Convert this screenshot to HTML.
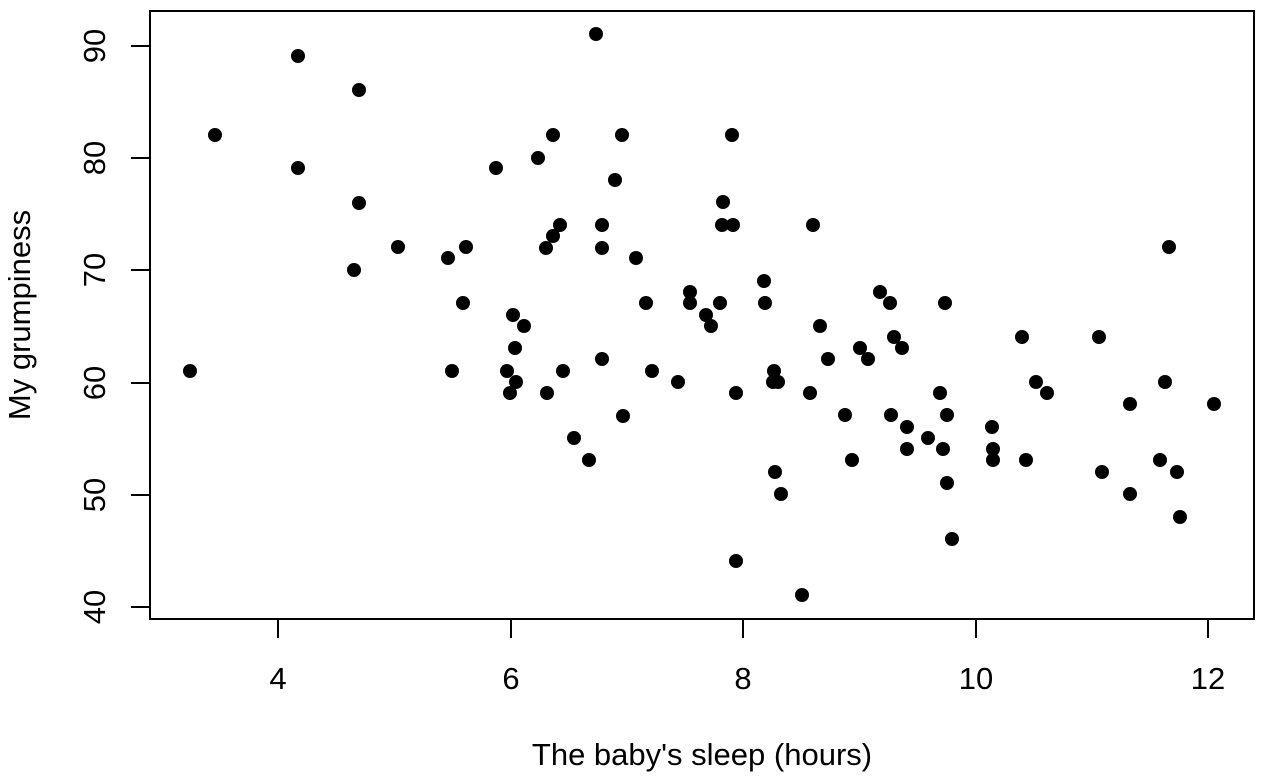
<!DOCTYPE html>
<html><head><meta charset="utf-8"><style>
html,body{margin:0;padding:0;background:#fff;}
svg{display:block;font-family:"Liberation Sans",Arial,sans-serif;}
</style></head><body>
<svg width="1268" height="778" viewBox="0 0 1268 778" xmlns="http://www.w3.org/2000/svg">
<rect x="150" y="11" width="1104" height="608" fill="none" stroke="#000" stroke-width="2"/>
<g stroke="#000" stroke-width="2">
<line x1="278" y1="619" x2="1208" y2="619"/>
<line x1="278" y1="619" x2="278" y2="638"/>
<line x1="511" y1="619" x2="511" y2="638"/>
<line x1="743" y1="619" x2="743" y2="638"/>
<line x1="976" y1="619" x2="976" y2="638"/>
<line x1="1208" y1="619" x2="1208" y2="638"/>
<line x1="150" y1="46" x2="150" y2="607"/>
<line x1="131" y1="607" x2="150" y2="607"/>
<line x1="131" y1="495" x2="150" y2="495"/>
<line x1="131" y1="383" x2="150" y2="383"/>
<line x1="131" y1="270" x2="150" y2="270"/>
<line x1="131" y1="158" x2="150" y2="158"/>
<line x1="131" y1="46" x2="150" y2="46"/>
</g>
<g font-size="31" text-anchor="middle" fill="#000">
<text x="278" y="689">4</text>
<text x="511" y="689">6</text>
<text x="743" y="689">8</text>
<text x="976" y="689">10</text>
<text x="1208" y="689">12</text>
<text transform="translate(105,607) rotate(-90)">40</text>
<text transform="translate(105,495) rotate(-90)">50</text>
<text transform="translate(105,383) rotate(-90)">60</text>
<text transform="translate(105,270) rotate(-90)">70</text>
<text transform="translate(105,158) rotate(-90)">80</text>
<text transform="translate(105,46) rotate(-90)">90</text>
<text x="702" y="765">The baby's sleep (hours)</text>
<text transform="translate(30,315) rotate(-90)">My grumpiness</text>
</g>
<g fill="#000">
<circle cx="190" cy="371" r="7"/><circle cx="215" cy="135" r="7"/><circle cx="298" cy="56" r="7"/><circle cx="298" cy="168" r="7"/><circle cx="359" cy="90" r="7"/><circle cx="359" cy="203" r="7"/><circle cx="354" cy="270" r="7"/><circle cx="398" cy="247" r="7"/><circle cx="448" cy="258" r="7"/><circle cx="452" cy="371" r="7"/><circle cx="463" cy="303" r="7"/><circle cx="466" cy="247" r="7"/><circle cx="496" cy="168" r="7"/><circle cx="507" cy="371" r="7"/><circle cx="510" cy="393" r="7"/><circle cx="513" cy="315" r="7"/><circle cx="515" cy="348" r="7"/><circle cx="516" cy="382" r="7"/><circle cx="524" cy="326" r="7"/><circle cx="538" cy="158" r="7"/><circle cx="546" cy="248" r="7"/><circle cx="547" cy="393" r="7"/><circle cx="553" cy="236" r="7"/><circle cx="553" cy="135" r="7"/><circle cx="560" cy="225" r="7"/><circle cx="563" cy="371" r="7"/><circle cx="574" cy="438" r="7"/><circle cx="589" cy="460" r="7"/><circle cx="596" cy="34" r="7"/><circle cx="602" cy="225" r="7"/><circle cx="602" cy="248" r="7"/><circle cx="602" cy="359" r="7"/><circle cx="615" cy="180" r="7"/><circle cx="622" cy="135" r="7"/><circle cx="623" cy="416" r="7"/><circle cx="636" cy="258" r="7"/><circle cx="646" cy="303" r="7"/><circle cx="652" cy="371" r="7"/><circle cx="678" cy="382" r="7"/><circle cx="690" cy="292" r="7"/><circle cx="690" cy="303" r="7"/><circle cx="706" cy="315" r="7"/><circle cx="711" cy="326" r="7"/><circle cx="720" cy="303" r="7"/><circle cx="723" cy="202" r="7"/><circle cx="722" cy="225" r="7"/><circle cx="733" cy="225" r="7"/><circle cx="732" cy="135" r="7"/><circle cx="736" cy="393" r="7"/><circle cx="736" cy="561" r="7"/><circle cx="764" cy="281" r="7"/><circle cx="765" cy="303" r="7"/><circle cx="774" cy="371" r="7"/><circle cx="773" cy="382" r="7"/><circle cx="778" cy="382" r="7"/><circle cx="775" cy="472" r="7"/><circle cx="781" cy="494" r="7"/><circle cx="802" cy="595" r="7"/><circle cx="810" cy="393" r="7"/><circle cx="813" cy="225" r="7"/><circle cx="820" cy="326" r="7"/><circle cx="828" cy="359" r="7"/><circle cx="845" cy="415" r="7"/><circle cx="852" cy="460" r="7"/><circle cx="860" cy="348" r="7"/><circle cx="868" cy="359" r="7"/><circle cx="880" cy="292" r="7"/><circle cx="890" cy="303" r="7"/><circle cx="891" cy="415" r="7"/><circle cx="894" cy="337" r="7"/><circle cx="902" cy="348" r="7"/><circle cx="907" cy="427" r="7"/><circle cx="907" cy="449" r="7"/><circle cx="928" cy="438" r="7"/><circle cx="940" cy="393" r="7"/><circle cx="945" cy="303" r="7"/><circle cx="943" cy="449" r="7"/><circle cx="947" cy="415" r="7"/><circle cx="947" cy="483" r="7"/><circle cx="952" cy="539" r="7"/><circle cx="992" cy="427" r="7"/><circle cx="993" cy="449" r="7"/><circle cx="993" cy="460" r="7"/><circle cx="1022" cy="337" r="7"/><circle cx="1026" cy="460" r="7"/><circle cx="1036" cy="382" r="7"/><circle cx="1047" cy="393" r="7"/><circle cx="1099" cy="337" r="7"/><circle cx="1102" cy="472" r="7"/><circle cx="1130" cy="404" r="7"/><circle cx="1130" cy="494" r="7"/><circle cx="1160" cy="460" r="7"/><circle cx="1165" cy="382" r="7"/><circle cx="1169" cy="247" r="7"/><circle cx="1177" cy="472" r="7"/><circle cx="1180" cy="517" r="7"/><circle cx="1214" cy="404" r="7"/>
</g>
</svg>
</body></html>
